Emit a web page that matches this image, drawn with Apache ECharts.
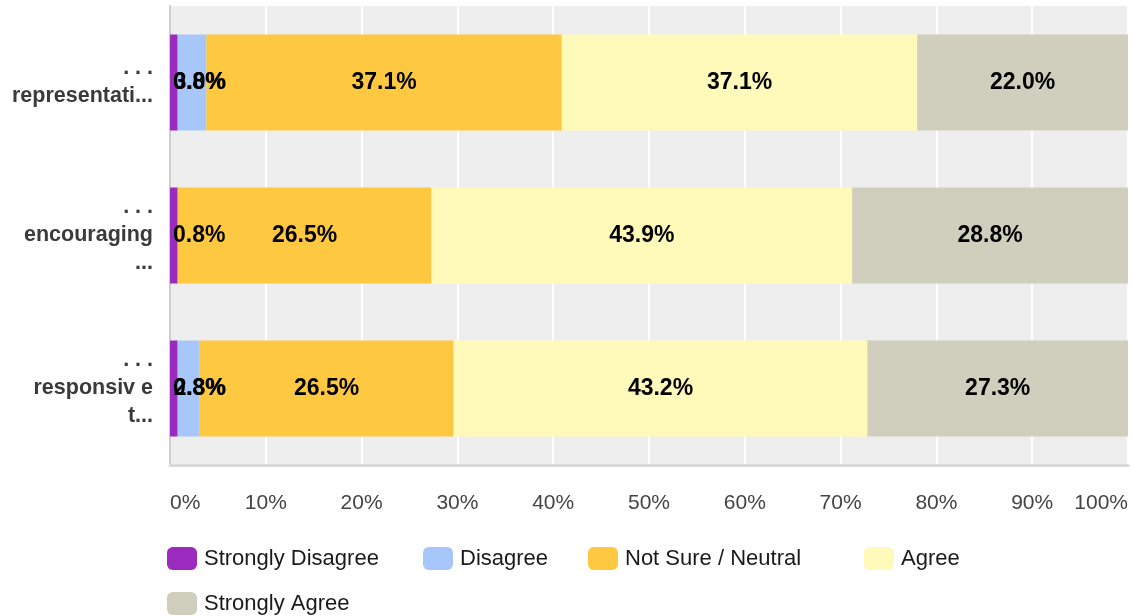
<!DOCTYPE html>
<html>
<head>
    <meta charset="UTF-8">
    <title>Survey responses</title>
    <script src="https://cdn.jsdelivr.net/npm/echarts@6/dist/echarts.min.js"></script>
</head>
<body style="margin:0;">
<div id="chart" style="width:1132px; height:616px;"></div>
<script>
    // categories, top to bottom
    var categories = ['. . .\nrepresentati...', '. . .\nencouraging\n...', '. . .\nresponsiv e\nt...'];
    var seriesNames = ['Strongly Disagree', 'Disagree', 'Not Sure / Neutral', 'Agree', 'Strongly Agree'];
    var stronglyDisagree = [0.8, 0.8, 0.8];
    var disagree = [3.0, 0, 2.3];
    var neutral = [37.1, 26.5, 26.5];
    var agree = [37.1, 43.9, 43.2];
    var stronglyAgree = [22.0, 28.8, 27.3];
    var tickValues = [0, 10, 20, 30, 40, 50, 60, 70, 80, 90, 100];

    var colors = ['#9b2bbf', '#a7c7fa', '#fec940', '#fffab9', '#d0cebc'];
    var font = 'Liberation Sans, Arial, sans-serif';

    var chart = echarts.init(document.getElementById('chart'), null, {renderer: 'canvas'});

    function pct(p) {
        return p.value ? p.value.toFixed(1) + '%' : '';
    }

    function makeSeries(name, data, idx) {
        var label = {
            show: true,
            formatter: pct,
            color: '#000',
            fontWeight: 'bold',
            fontSize: 23,
            fontFamily: font
        };
        // the thin left segments put their text at the bar start
        if (idx === 0) {
            label.position = [3, '50%'];
            label.align = 'left';
            label.verticalAlign = 'middle';
        } else if (idx === 1) {
            label.position = [-4, '50%'];
            label.align = 'left';
            label.verticalAlign = 'middle';
        } else {
            label.position = 'inside';
        }
        return {
            name: name,
            type: 'bar',
            stack: 'all',
            barWidth: 96,
            data: data,
            itemStyle: {color: colors[idx]},
            label: label,
            emphasis: {disabled: true}
        };
    }

    var legendLeft = [167, 423, 588, 864, 167];
    var legendTop = [547, 547, 547, 547, 592];
    var legends = seriesNames.map(function (n, i) {
        return {
            data: [n],
            left: legendLeft[i],
            top: legendTop[i],
            padding: 0,
            itemWidth: 30,
            itemHeight: 23,
            icon: 'roundRect',
            selectedMode: false,
            textStyle: {fontSize: 22, color: '#1a1a1a', fontFamily: font, padding: [0, 0, 0, 2]}
        };
    });

    var option = {
        animation: false,
        color: colors,
        legend: legends,
        grid: {
            left: 170,
            right: 4,
            top: 6,
            bottom: 151,
            show: true,
            backgroundColor: '#eeeeee',
            borderWidth: 0
        },
        xAxis: {
            type: 'value',
            min: tickValues[0],
            max: tickValues[tickValues.length - 1],
            interval: 10,
            axisLine: {show: true, lineStyle: {color: '#d9d9d9', width: 3}},
            axisTick: {show: false},
            splitLine: {show: true, lineStyle: {color: '#ffffff', width: 2}},
            axisLabel: {
                formatter: '{value}%',
                fontSize: 21,
                color: '#444',
                margin: 28,
                fontFamily: font,
                alignMinLabel: 'left',
                alignMaxLabel: 'right'
            }
        },
        yAxis: {
            type: 'category',
            inverse: true,
            data: categories,
            axisLine: {show: true, lineStyle: {color: '#cfcfcf', width: 2}},
            axisTick: {show: false},
            axisLabel: {
                fontSize: 21.5,
                fontWeight: 'bold',
                color: '#3a3a3a',
                lineHeight: 28,
                margin: 17,
                align: 'right',
                fontFamily: font
            }
        },
        series: [
            makeSeries(seriesNames[0], stronglyDisagree, 0),
            makeSeries(seriesNames[1], disagree, 1),
            makeSeries(seriesNames[2], neutral, 2),
            makeSeries(seriesNames[3], agree, 3),
            makeSeries(seriesNames[4], stronglyAgree, 4)
        ]
    };
    chart.setOption(option);
</script>
</body>
</html>
